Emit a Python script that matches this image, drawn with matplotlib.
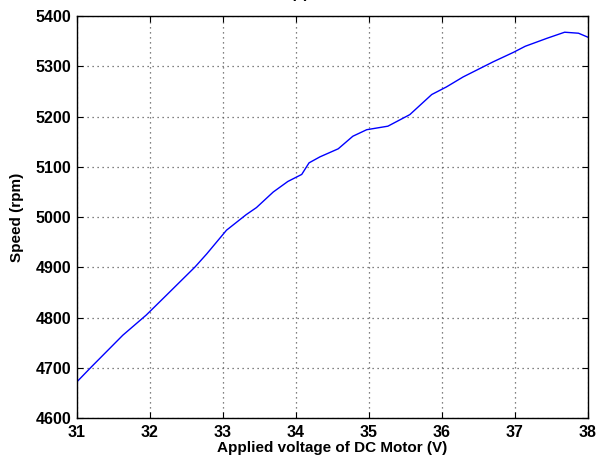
import numpy as np
import matplotlib.pyplot as plt

plt.rcParams['font.family'] = ['Liberation Sans', 'DejaVu Sans']
plt.rcParams['font.weight'] = 'bold'

# values
voltage = [31.0, 31.2, 31.63, 31.95, 32.23, 32.62, 32.78, 33.05, 33.32, 33.46,
           33.69, 33.89, 34.08, 34.18, 34.33, 34.58, 34.78, 34.97, 35.26, 35.56,
           35.86, 36.06, 36.29, 36.7, 36.98, 37.14, 37.44, 37.68, 37.87, 38.0]
speed = [4672, 4702, 4765, 4805, 4845, 4901, 4927, 4974, 5005, 5019,
         5050, 5071, 5085, 5108, 5120, 5136, 5161, 5174, 5181, 5204,
         5244, 5259, 5279, 5309, 5328, 5340, 5356, 5368, 5366, 5358]
xticks = [31, 32, 33, 34, 35, 36, 37, 38]
yticks = [4600, 4700, 4800, 4900, 5000, 5100, 5200, 5300, 5400]

fig = plt.figure(figsize=(6, 4.61), dpi=100)
ax = fig.add_axes([0.128, 0.093, 0.852, 0.872])
ax.plot(voltage, speed, color='blue', lw=1.0)
ax.set_xlim(31, 38)
ax.set_ylim(4600, 5400)
ax.set_xticks(xticks)
ax.set_yticks(yticks)
ax.grid(True, linestyle=(0, (1, 3)), color='0.35', lw=0.9)
ax.tick_params(direction='in', top=True, right=True, labelsize=11.5, length=4)
ax.tick_params(axis='x', pad=5)
ax.tick_params(axis='y', pad=4)
for s in ax.spines.values():
    s.set_linewidth(1.0)
ax.set_xlabel('Applied voltage of DC Motor (V)', fontsize=11, fontweight='bold', labelpad=1)
ax.set_ylabel('Speed (rpm)', fontsize=11, fontweight='bold', labelpad=8)
fig.text(0.5, 1.012, '(a)', ha='center', va='center', fontsize=11, fontweight='bold')
fig.savefig('out.png', dpi=100)
